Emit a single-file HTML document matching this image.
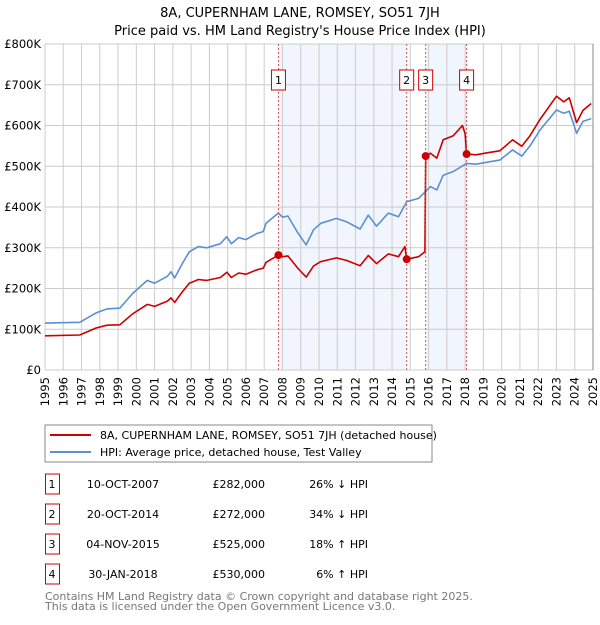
<!DOCTYPE html>
<html><head><meta charset="utf-8"><style>
body{margin:0;background:#fff;font-family:"Liberation Sans","DejaVu Sans",sans-serif;}
svg text{font-family:"DejaVu Sans","Liberation Sans",sans-serif;}
</style></head><body>
<svg id="c" width="600" height="620" xmlns="http://www.w3.org/2000/svg">
<text x="300" y="17" text-anchor="middle" font-size="13">8A, CUPERNHAM LANE, ROMSEY, SO51 7JH</text>
<text x="300" y="35" text-anchor="middle" font-size="13">Price paid vs. HM Land Registry's House Price Index (HPI)</text>
<g id="plot"></g>
<rect x="45" y="425" width="387" height="37" fill="#fff" stroke="#888"/>
<line x1="50" y1="435" x2="91" y2="435" stroke="#cc0000" stroke-width="2"/>
<text x="100" y="439" font-size="11">8A, CUPERNHAM LANE, ROMSEY, SO51 7JH (detached house)</text>
<line x1="50" y1="452" x2="91" y2="452" stroke="#5b8fd4" stroke-width="2"/>
<text x="100" y="456" font-size="11">HPI: Average price, detached house, Test Valley</text>
<g id="table" font-size="11"></g>
<text x="45" y="600" font-size="11" fill="#777">Contains HM Land Registry data © Crown copyright and database right 2025.</text>
<text x="45" y="610" font-size="11" fill="#777">This data is licensed under the Open Government Licence v3.0.</text>
</svg>
<script>
const hpiYears=[1995,1996.9,1997.8,1998.4,1999.1,1999.8,2000.6,2001.0,2001.7,2001.9,2002.1,2002.5,2002.9,2003.4,2003.85,2004.6,2004.95,2005.2,2005.6,2006.0,2006.6,2006.95,2007.1,2007.77,2008.0,2008.3,2008.85,2009.3,2009.7,2010.1,2010.95,2011.5,2012.25,2012.7,2013.15,2013.8,2014.35,2014.8,2015.45,2016.1,2016.45,2016.8,2017.35,2018.08,2018.6,2019.2,2019.9,2020.6,2021.1,2021.55,2022.1,2023.0,2023.4,2023.7,2024.1,2024.45,2024.9];
const hpiValues=[115,117,140,150,152,188,220,213,230,241,226,260,290,303,300,310,327,310,325,320,335,340,360,385,375,378,336,307,344,360,372,364,346,380,353,385,376,413,421,450,442,478,487,507,505,510,515,540,525,550,589,638,630,635,581,610,617];
const redYears=[1995,1996.9,1997.8,1998.4,1999.1,1999.8,2000.6,2001.0,2001.7,2001.9,2002.1,2002.5,2002.9,2003.4,2003.85,2004.6,2004.95,2005.2,2005.6,2006.0,2006.6,2006.95,2007.1,2007.77,2008.0,2008.3,2008.85,2009.3,2009.7,2010.1,2010.95,2011.5,2012.25,2012.7,2013.15,2013.8,2014.35,2014.7,2014.8,2015.45,2015.8,2015.84,2016.1,2016.45,2016.8,2017.35,2017.85,2018.0,2018.08,2018.6,2019.2,2019.9,2020.6,2021.1,2021.55,2022.1,2023.0,2023.4,2023.7,2024.1,2024.45,2024.9];
const redValues=[84,86,103,110,111,138,161,156,169,177,166,191,213,222,220,227,240,227,238,235,246,250,264,282,278,280,249,228,255,266,275,269,256,281,261,285,278,303,272,278,290,525,532,520,565,575,600,580,530,528,533,538,565,549,575,615,672,658,668,607,637,654];
const saleNums=["1","2","3","4"];
const saleYears=[2007.78,2014.8,2015.84,2018.08];
const salePrices=[282,272,525,530];
const saleDates=["10-OCT-2007","20-OCT-2014","04-NOV-2015","30-JAN-2018"];
const salePriceLabels=["£282,000","£272,000","£525,000","£530,000"];
const saleHpi=["26% ↓ HPI","34% ↓ HPI","18% ↑ HPI","6% ↑ HPI"];
const yTicks=[0,100,200,300,400,500,600,700,800];
const yTickLabels=["£0","£100K","£200K","£300K","£400K","£500K","£600K","£700K","£800K"];
const xTicks=[1995,1996,1997,1998,1999,2000,2001,2002,2003,2004,2005,2006,2007,2008,2009,2010,2011,2012,2013,2014,2015,2016,2017,2018,2019,2020,2021,2022,2023,2024,2025];

const X0=45,X1=593,Y0=370,Y1=44;
const xs=y=>X0+(y-1995)/30*(X1-X0);
const ys=v=>Y0-v/800*(Y0-Y1);
const NS="http://www.w3.org/2000/svg";
const plot=document.getElementById('plot');
function mk(tag,attrs,parent){const e=document.createElementNS(NS,tag);for(const k in attrs)e.setAttribute(k,attrs[k]);(parent||plot).appendChild(e);return e;}

for(let i=0;i<saleYears.length;i+=2){
  const r=mk('rect',{x:xs(saleYears[i]),y:Y1,width:xs(saleYears[i+1])-xs(saleYears[i]),height:Y0-Y1,fill:'#eef3fd',opacity:0.8});
  
  
}
xTicks.forEach(t=>{
  const l=mk('line',{x1:xs(t),x2:xs(t),y1:Y1,y2:Y0,stroke:'#ccc','stroke-width':1});
  
  
  const px=xs(t)+4,py=Y0+7;
  const tx=mk('text',{x:px,y:py,'text-anchor':'end','font-size':11.5,transform:'rotate(-90 '+px+' '+py+')'});
  tx.textContent=t;
  
  
});
yTicks.forEach((t,i)=>{
  const l=mk('line',{x1:X0,x2:X1,y1:ys(t),y2:ys(t),stroke:'#ccc','stroke-width':1});
  
  
  const tx=mk('text',{x:X0-4,y:ys(t)+4,'text-anchor':'end','font-size':11.5});
  tx.textContent=yTickLabels[i];
  
  
});
const fr=mk('line',{x1:X1,x2:X1,y1:Y1,y2:Y0,stroke:'#888','stroke-width':1});



function path(xsA,vs,color,name){
  const d=xsA.map((y,i)=>(i?'L':'M')+xs(y).toFixed(1)+','+ys(vs[i]).toFixed(1)).join('');
  const p=mk('path',{d:d,fill:'none',stroke:color,'stroke-width':1.6,'stroke-linejoin':'round'});
  
  
}
path(hpiYears,hpiValues,'#5b8fd4','hpi-line');
path(redYears,redValues,'#cc0000','property-price-line');

saleYears.forEach((y,i)=>{
  const l=mk('line',{x1:xs(y),x2:xs(y),y1:Y1,y2:Y0,stroke:'#e05050','stroke-width':1,'stroke-dasharray':'2,2'});
  
  
  const b=mk('rect',{x:xs(y)-7,y:70,width:14,height:20,fill:'#fff',stroke:'#cc0000'});
  
  
  const t=mk('text',{x:xs(y),y:84,'text-anchor':'middle','font-size':11});
  t.textContent=saleNums[i];
  
  
  const c=mk('circle',{cx:xs(y),cy:ys(salePrices[i]),r:4,fill:'#cc0000'});
  
  
});

const tbl=document.getElementById('table');
saleNums.forEach((n,i)=>{
  const y=487+i*30;
  const b=mk('rect',{x:45.5,y:y-13,width:14,height:20,fill:'#fff',stroke:'#cc0000'},tbl);
  
  
  const cols=[[52,'middle',n,'sale-number'],[123,'middle',saleDates[i],'sale-date'],[265,'end',salePriceLabels[i],'sale-price'],[368,'end',saleHpi[i],'sale-hpi-diff']];
  cols.forEach(c=>{
    const t=mk('text',{x:c[0],y:y+1,'text-anchor':c[1]},tbl);
    t.textContent=c[2];
    
    
  });
});
</script>
</body></html>
